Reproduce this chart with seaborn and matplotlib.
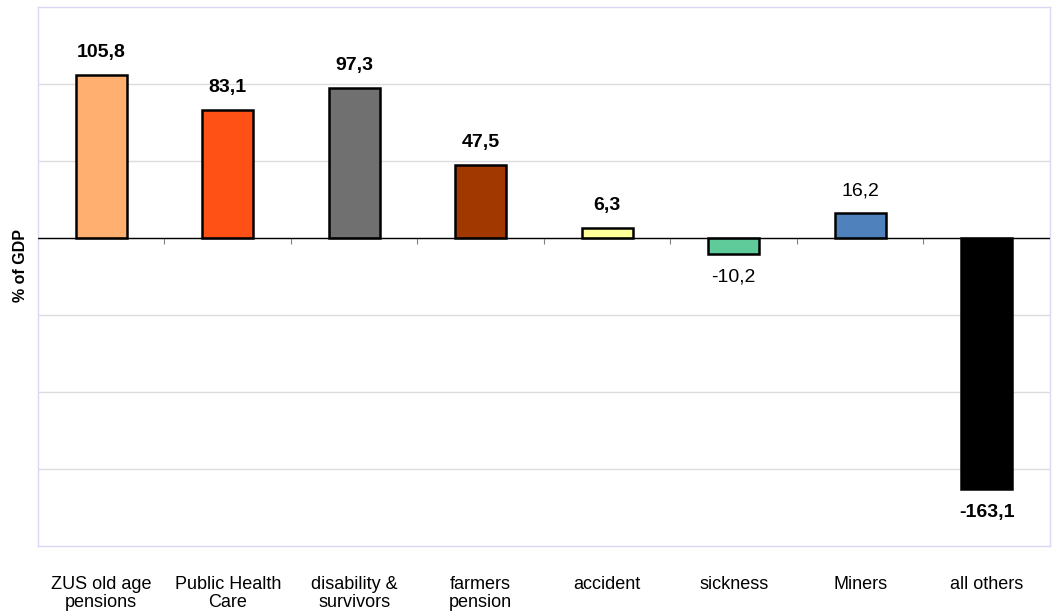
import matplotlib.pyplot as plt
import pandas as pd
import seaborn as sns

# chart data
categories = ["ZUS old age\npensions", "Public Health\nCare", "disability &\nsurvivors",
              "farmers\npension", "accident", "sickness", "Miners", "all others"]
values = [105.8, 83.1, 97.3, 47.5, 6.3, -10.2, 16.2, -163.1]
labels = ["105,8", "83,1", "97,3", "47,5", "6,3", "-10,2", "16,2", "-163,1"]
bold_label = [True, True, True, True, True, False, False, True]
colors = ["#FFB070", "#FF5015", "#707070", "#A03800", "#FFFF99", "#5FCA9A", "#4F81BD", "#000000"]

df = pd.DataFrame({"category": categories, "value": values})

sns.set_style("white")
plt.rcParams["font.family"] = ["Liberation Sans", "DejaVu Sans"]
plt.rcParams["text.color"] = "black"
plt.rcParams["xtick.color"] = "black"
plt.rcParams["axes.labelcolor"] = "black"

fig = plt.figure(figsize=(10.58, 6.12), dpi=100)
ax = fig.add_axes([0.0359, 0.1078, 0.9565, 0.8808])

sns.barplot(data=df, x="category", y="value", hue="category", palette=colors,
            legend=False, width=0.4, edgecolor="black", linewidth=1.8,
            saturation=1, errorbar=None, ax=ax, zorder=3)

ymin, ymax = -200, 150
ax.set_ylim(ymin, ymax)
ax.set_xlim(-0.5, len(categories) - 0.5)

# gridlines
ax.set_yticks(range(-150, 150, 50))
ax.yaxis.grid(True, color="#DCDCDC", linewidth=1)
ax.set_axisbelow(True)
ax.tick_params(axis="y", left=False, labelleft=False)

# zero line with small ticks at category boundaries (pointing down)
ax.axhline(0, color="black", linewidth=1, zorder=4)
sec = ax.secondary_xaxis((0 - ymin) / (ymax - ymin))
sec.set_xticks([i + 0.5 for i in range(len(categories) - 1)])
sec.xaxis.set_ticks_position("bottom")
sec.tick_params(axis="x", direction="out", length=4, color="#808080",
                labeltop=False, labelbottom=False)
for s in sec.spines.values():
    s.set_visible(False)

for s in ax.spines.values():
    s.set_color("#D8D8F2")
    s.set_linewidth(1)

ax.tick_params(axis="x", bottom=False, labelsize=13, pad=18)
for t in ax.get_xticklabels():
    t.set_linespacing(1.05)
ax.set_xlabel("")
ax.set_ylabel("% of GDP", fontsize=11.5, fontweight="bold")
ax.yaxis.set_label_coords(-0.01, 0.52)

# value labels
for i, (v, lab, b) in enumerate(zip(values, labels, bold_label)):
    off = 10 if v >= 0 else -11
    ax.annotate(lab, (i, v), xytext=(0, off), textcoords="offset points",
                ha="center", va="bottom" if v >= 0 else "top",
                fontsize=14, fontweight="bold" if b else "normal")

fig.savefig("out.png", dpi=100)
